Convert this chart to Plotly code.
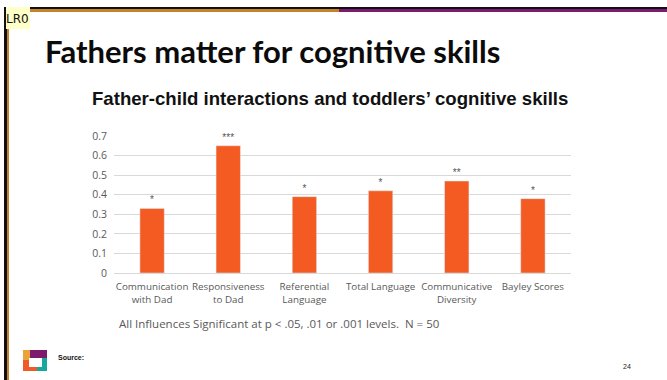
import plotly.graph_objects as go

categories = ["Communication<br>with Dad", "Responsiveness<br>to Dad", "Referential<br>Language",
              "Total Language", "Communicative<br>Diversity", "Bayley Scores"]
values = [0.33, 0.65, 0.39, 0.42, 0.47, 0.38]
stars = ["*", "***", "*", "*", "**", "*"]
y_ticks = [0, 0.1, 0.2, 0.3, 0.4, 0.5, 0.6, 0.7]
y_labels = ["0", "0.1", "0.2", "0.3", "0.4", "0.5", "0.6", "0.7"]

fig = go.Figure()
fig.add_bar(x=categories, y=values, marker_color="#F35B22", width=0.32,
            text=stars, textposition="outside", cliponaxis=False,
            textfont=dict(family="Liberation Sans", size=10, color="#555555"))


def paper_x(px):
    return px / 667


def paper_y(py):
    return 1 - py / 380


def rect(x0, y0, x1, y1, color, radius=0):
    fig.add_shape(type="rect", xref="paper", yref="paper", x0=paper_x(x0), x1=paper_x(x1),
                  y0=paper_y(y0), y1=paper_y(y1), fillcolor=color, line_width=0, layer="above")


def label(x, y, text, size, color, family, anchor="left", bold=False):
    fig.add_annotation(xref="paper", yref="paper", x=paper_x(x), y=paper_y(y), text=f"<b>{text}</b>" if bold else text,
                       showarrow=False, xanchor=anchor, yanchor="middle",
                       font=dict(family=family, size=size, color=color), borderpad=0, borderwidth=0)


# Slide frame
rect(4, 7, 667, 9, "#111111")
rect(4, 9, 339, 12, "#C4832B")
rect(339, 9, 667, 12, "#7E1A6E")
rect(4, 7, 7, 380, "#111111")
rect(7, 12, 9, 380, "#C4832B")

# LR0 tag
rect(6, 7, 30, 29, "#FFFFC8")
label(6, 19, "LR0", 12, "#111111", "DejaVu Sans")

# Titles and notes
label(45, 51, "Fathers matter for cognitive skills", 31, "#0B0B0B", "Lato", bold=True)
label(92, 98, "Father-child interactions and toddlers’ cognitive skills", 18.6, "#111111", "Liberation Sans", bold=True)
label(119, 323, "All Influences Significant at p < .05, .01 or .001 levels.  N = 50", 11.5, "#595959", "Open Sans")
label(58, 357, "Source:", 7, "#111111", "Liberation Sans", bold=True)
label(623, 366, "24", 7, "#222222", "Liberation Sans")

# Logo
rect(23, 350, 47, 371, "#F05A28")
rect(30, 350, 47, 358, "#7E1A6E")
rect(23, 350, 30, 360, "#E9A33B")
rect(37, 358, 47, 371, "#17A79B")
rect(29, 358, 42, 367, "#FFFFFF")

fig.update_layout(
    width=667, height=380, margin=dict(l=0, r=0, t=0, b=0), autosize=False,
    paper_bgcolor="white", plot_bgcolor="white", showlegend=False, bargap=0.68,
    font=dict(family="Open Sans", color="#595959"),
    xaxis=dict(domain=[114 / 667, 571 / 667], showgrid=False, showline=True, linecolor="#D9D9D9", linewidth=1,
               automargin=False, ticks="", ticklabelstandoff=4,
               tickfont=dict(size=9.8, family="Open Sans", color="#595959"), tickangle=0),
    yaxis=dict(domain=[1 - 273 / 380, 1 - 136 / 380], range=[0, 0.7], tickvals=y_ticks, ticktext=y_labels,
               automargin=False, showgrid=True, gridcolor="#D9D9D9", gridwidth=1, zeroline=False, showline=False, ticks="",
               ticklabelstandoff=6, tickfont=dict(size=10.5, family="Open Sans", color="#595959")),
)

fig.write_html("out.html", config={"displayModeBar": False},
               post_script="document.body.style.margin='0';document.body.style.overflow='hidden';")
